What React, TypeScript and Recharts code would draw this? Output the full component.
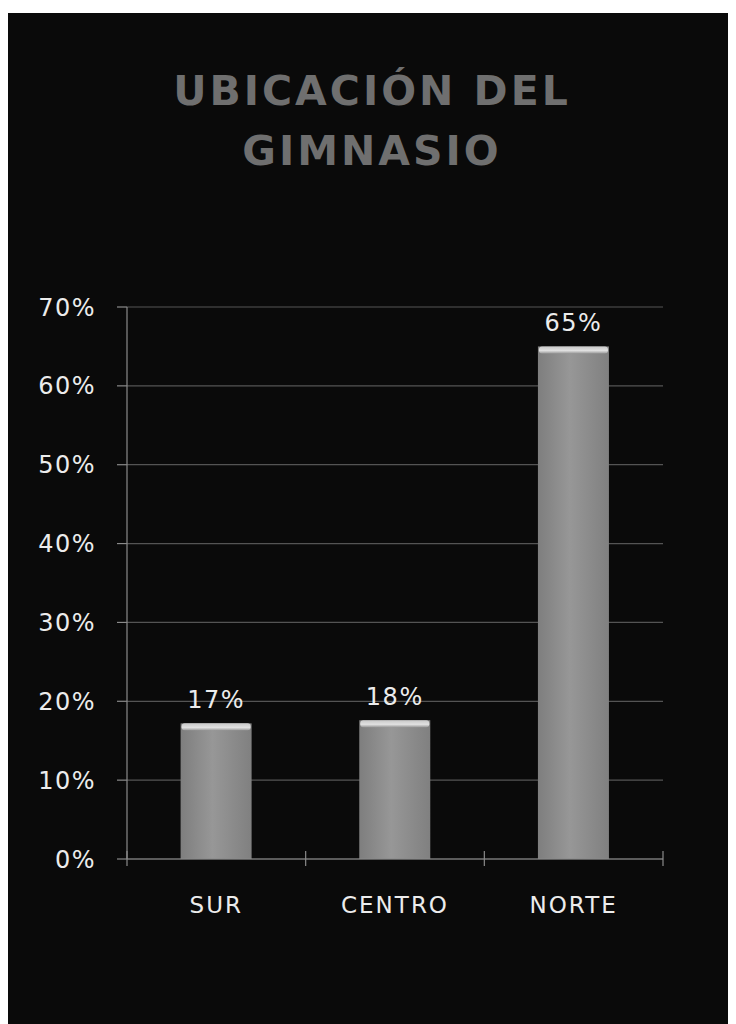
import { Bar, BarChart, CartesianGrid, LabelList, XAxis, YAxis } from "recharts";

const categories = ["SUR", "CENTRO", "NORTE"];
const shares = [17.2, 17.6, 65];
const yTicks = [0, 10, 20, 30, 40, 50, 60, 70];

const data = categories.map((name, i) => ({ name, share: shares[i] }));

const FONT = "'DejaVu Sans', 'Open Sans', sans-serif";
const TEXT = "#ececec";
const AXIS = "#8a8a8a";

const CHART_W = 728;
const Y_AXIS_W = 119;
const RIGHT = 73;
const PLOT_W = CHART_W - Y_AXIS_W - RIGHT;

function BarShape(props: any) {
  const { x, y, width, height } = props;
  if (!height || height <= 0) return null;
  return (
    <g>
      <rect x={x} y={y} width={width} height={height} fill="url(#barBody)" />
      <rect x={x + 1} y={y} width={width - 2} height={7} rx={3} fill="url(#barCap)" />
    </g>
  );
}

// category label plus tick marks on the band edges (crossing the axis line)
function CategoryTick(props: any) {
  const { x, y, payload, index, visibleTicksCount } = props;
  const band = PLOT_W / (visibleTicksCount || categories.length);
  const edges = [x - band / 2];
  if (index === visibleTicksCount - 1) edges.push(x + band / 2);
  return (
    <g>
      {edges.map((ex, i) => (
        <line key={i} x1={ex} x2={ex} y1={y - 8} y2={y + 7} stroke={AXIS} strokeWidth={1.2} />
      ))}
      <text
        x={x}
        y={y + 37}
        dy="0.72em"
        textAnchor="middle"
        fill={TEXT}
        fontSize={23}
        fontFamily={FONT}
        letterSpacing={2}
      >
        {payload.value}
      </text>
    </g>
  );
}

export default function App() {
  return (
    <div
      style={{
        position: "relative",
        width: CHART_W,
        height: 1011,
        marginTop: 5,
        background: "#0a0a0a",
        fontFamily: FONT,
      }}
    >
      <svg width={0} height={0} style={{ position: "absolute" }}>
        <defs>
          <linearGradient id="barBody" x1="0" y1="0" x2="1" y2="0">
            <stop offset="0%" stopColor="#7e7e7e" />
            <stop offset="45%" stopColor="#979797" />
            <stop offset="100%" stopColor="#808080" />
          </linearGradient>
          <linearGradient id="barCap" x1="0" y1="0" x2="0" y2="1">
            <stop offset="0%" stopColor="#c8c8c8" />
            <stop offset="60%" stopColor="#e0e0e0" />
            <stop offset="100%" stopColor="#9a9a9a" />
          </linearGradient>
        </defs>
      </svg>
      <div
        style={{
          position: "absolute",
          top: 48,
          left: 0,
          width: CHART_W,
          textAlign: "center",
          color: "#6f6f6f",
          fontWeight: 700,
          fontSize: 41,
          letterSpacing: 3,
          lineHeight: "60px",
        }}
      >
        UBICACIÓN DEL
        <br />
        GIMNASIO
      </div>
      <BarChart
        width={CHART_W}
        height={1011}
        data={data}
        margin={{ top: 294, right: RIGHT, bottom: 106, left: 0 }}
        barCategoryGap="30%"
      >
        <CartesianGrid vertical={false} stroke="#545454" strokeWidth={1.2} />
        <XAxis
          dataKey="name"
          axisLine={{ stroke: AXIS, strokeWidth: 1.2 }}
          tickLine={false}
          tickSize={0}
          tickMargin={0}
          height={59}
          interval={0}
          tick={<CategoryTick />}
        />
        <YAxis
          domain={[0, 70]}
          ticks={yTicks}
          width={Y_AXIS_W}
          tickFormatter={(v) => `${v}%`}
          axisLine={{ stroke: AXIS, strokeWidth: 1.2 }}
          tickLine={{ stroke: AXIS, strokeWidth: 1.2 }}
          tickSize={10}
          tickMargin={21}
          tick={{ fill: TEXT, fontSize: 24, fontFamily: FONT, letterSpacing: 1.5 }}
        />
        <Bar dataKey="share" shape={<BarShape />} isAnimationActive={false}>
          <LabelList
            dataKey="share"
            position="top"
            offset={15}
            formatter={(v: any) => `${Math.round(Number(v))}%`}
            style={{ fill: TEXT, fontSize: 24, fontFamily: FONT, letterSpacing: 1.5 }}
          />
        </Bar>
      </BarChart>
    </div>
  );
}
